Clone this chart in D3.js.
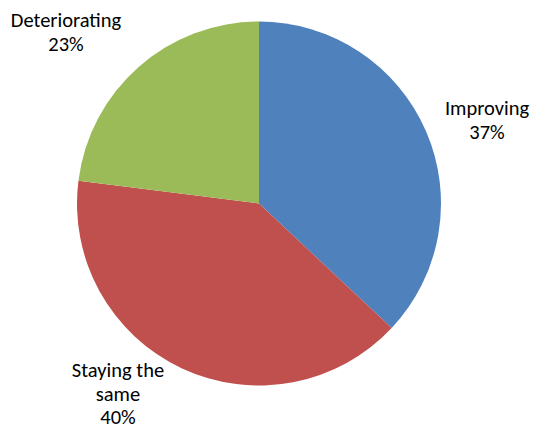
<!DOCTYPE html>
<html>
<head>
<meta charset="utf-8">
<script src="https://cdn.jsdelivr.net/npm/d3@7"></script>
<style>
  html, body { margin: 0; padding: 0; background: #fff; }
  svg text { font-family: Carlito, Calibri, Lato, "Liberation Sans", sans-serif; font-size: 20.5px; fill: #000; }
</style>
</head>
<body>
<svg id="chart" width="535" height="430"></svg>
<script>
// Share of responses per outlook category
const categories = ["Improving", "Staying the same", "Deteriorating"];
const values = [37, 40, 23];
const labelLines = [["Improving", "37%"], ["Staying the", "same", "40%"], ["Deteriorating", "23%"]];
const colors = ["#4F81BD", "#C0504D", "#9BBB59"];

const W = 535, H = 430;
const cx = 259, cy = 203.5, radius = 182;
const lineHeight = 23.5;
// Anchor (centre x, first baseline y) of each data label block
const labelAnchors = [[487, 115], [118, 377], [66, 27]];

const svg = d3.select("#chart");
const g = svg.append("g").attr("transform", `translate(${cx},${cy})`);

const pie = d3.pie().sort(null).value(d => d.value);
const arc = d3.arc().innerRadius(0).outerRadius(radius);

const data = categories.map((c, i) => ({ name: c, value: values[i], i }));

g.selectAll("path.slice")
  .data(pie(data))
  .join("path")
  .attr("class", "slice")
  .attr("d", arc)
  .attr("fill", d => colors[d.data.i]);

const labels = svg.selectAll("text.lbl")
  .data(data)
  .join("text")
  .attr("class", "lbl")
  .attr("text-anchor", "middle")
  .attr("x", d => labelAnchors[d.i][0])
  .attr("y", d => labelAnchors[d.i][1]);

labels.each(function(d) {
  const t = d3.select(this);
  labelLines[d.i].forEach((line, k) => {
    t.append("tspan")
      .attr("x", labelAnchors[d.i][0])
      .attr("dy", k === 0 ? 0 : lineHeight)
      .text(line);
  });
});
</script>
</body>
</html>
